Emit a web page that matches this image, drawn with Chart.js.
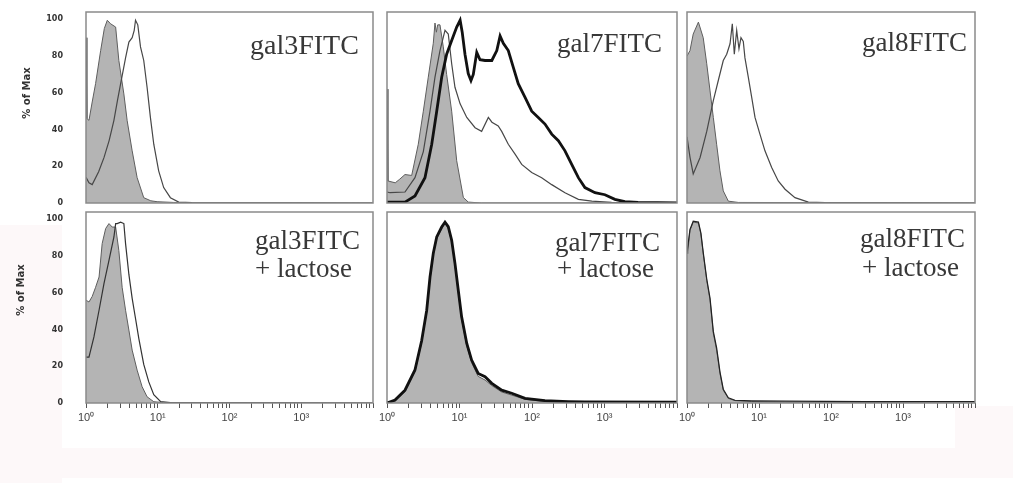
<!DOCTYPE html>
<html>
<head>
<meta charset="utf-8">
<script src="https://cdn.jsdelivr.net/npm/chart.js@4.4.1/dist/chart.umd.min.js"></script>
<style>
  body { margin: 0; background: #fff; width: 1013px; height: 483px; position: relative; overflow: hidden; }
  canvas { position: absolute; }
  .tag { position: absolute; font-family: 'Liberation Serif', 'Times New Roman', serif; font-size: 27px; line-height: 27px; color: #383838; white-space: nowrap; }
  .ytitle { position: absolute; font-family: 'DejaVu Sans', sans-serif; font-weight: bold; font-size: 10px; color: #333; white-space: nowrap; transform: translate(-50%, -50%) rotate(-90deg); }
  .tint { position: absolute; background: #fdf8f9; }
</style>
</head>
<body>
<div class="tint" style="left:0;top:225px;width:62px;height:258px"></div>
<div class="tint" style="left:62px;top:448px;width:951px;height:30px"></div>
<div class="tint" style="left:955px;top:406px;width:58px;height:42px"></div>

<canvas id="c1" width="375" height="201" style="left:0;top:7px"></canvas>
<canvas id="c2" width="294" height="195" style="left:385px;top:10px"></canvas>
<canvas id="c3" width="292" height="195" style="left:685px;top:10px"></canvas>
<canvas id="c4" width="376" height="226" style="left:0;top:207px"></canvas>
<canvas id="c5" width="307" height="223" style="left:373px;top:210px"></canvas>
<canvas id="c6" width="305" height="223" style="left:673px;top:210px"></canvas>

<div class="ytitle" style="left:26px;top:93px">% of Max</div>
<div class="ytitle" style="left:20px;top:290px">% of Max</div>

<div class="tag" style="left:250px;top:31px;font-size:28px">gal3FITC</div>
<div class="tag" style="left:557px;top:30px">gal7FITC</div>
<div class="tag" style="left:862px;top:29px">gal8FITC</div>
<div class="tag" style="left:255px;top:227px">gal3FITC</div>
<div class="tag" style="left:255px;top:255px">+ lactose</div>
<div class="tag" style="left:555px;top:229px">gal7FITC</div>
<div class="tag" style="left:557px;top:255px">+ lactose</div>
<div class="tag" style="left:860px;top:225px">gal8FITC</div>
<div class="tag" style="left:862px;top:254px">+ lactose</div>

<script>
// Axis ticks
const yTicks = [0, 20, 40, 60, 80, 100];
const xMajorTicks = [1, 10, 100, 1000];
const xMajorLabels = ['10⁰', '10¹', '10²', '10³'];
const xMinorTicks = [2, 3, 4, 5, 6, 7, 8, 9, 20, 30, 40, 50, 60, 70, 80, 90,
    200, 300, 400, 500, 600, 700, 800, 900, 2000, 3000, 4000, 5000, 6000, 7000, 8000, 9000, 10000];

// Histograms: [fluorescence, % of max]
const gal3Ctrl = [[1, 90], [1.03, 46], [1.1, 45], [1.22, 55], [1.36, 65], [1.6, 83], [1.8, 95], [1.98, 99.5],
    [2.2, 97.6], [2.59, 95.8], [2.87, 77.6], [3.37, 59.4], [3.75, 44.8], [4.4, 28.4], [5.16, 13.8], [6.38, 2.9],
    [8, 1.2], [9.8, 0.7], [16.7, 0.3], [30, 0], [10000, 0]];
const gal3Stain = [[1, 14], [1.1, 11], [1.22, 10], [1.5, 17], [1.78, 24.7], [2.1, 34], [2.45, 45], [2.75, 56],
    [3.04, 65], [3.56, 79], [3.96, 87.6], [4.4, 90], [4.7, 94], [4.9, 99.5], [5.27, 97], [5.75, 85], [6.38, 77.6],
    [7.1, 63], [7.9, 46.6], [8.8, 32], [10.3, 17.5], [12.1, 8.4], [15, 2.9], [19.6, 0.5], [30, 0.2], [10000, 0]];

const gal7Ctrl = [[1, 62], [1.03, 12], [1.3, 11], [1.5, 13], [1.77, 15.5], [2.19, 15], [2.7, 32], [3.17, 50],
    [3.71, 68.5], [4.35, 87], [4.59, 98], [4.8, 93], [5.0, 97], [5.38, 97], [5.98, 85], [6.65, 70], [7.8, 50],
    [9.15, 23], [11.3, 3], [13.2, 0.5], [20, 0], [10000, 0]];
const gal7Thin = [[1, 6], [1.1, 5.6], [1.77, 6], [2.43, 13.8], [3.17, 28], [3.92, 50], [4.59, 68.5], [5.38, 83],
    [6.31, 94], [7.0, 92], [7.8, 75.8], [8.66, 63], [10.2, 54], [12.6, 46.6], [16.4, 41], [20.2, 39], [25, 46.6],
    [28, 44], [34.2, 42], [38.2, 39], [47.1, 32], [58.4, 26.6], [72.1, 21], [99.1, 16.6], [136, 13.8], [187, 10],
    [285, 5.6], [436, 2], [668, 1], [1250, 0.3], [10000, 0]];
const gal7Thick = [[1, 0.5], [1.77, 0.5], [2.43, 3.8], [3.34, 13.8], [4.14, 32], [4.85, 50], [5.68, 68.5],
    [6.65, 81], [7.8, 88.5], [9.15, 95.8], [10.2, 99.5], [10.9, 93], [11.9, 81], [13.2, 70.5], [14.4, 66.7],
    [15.5, 70], [17.3, 82], [19.2, 78], [22.5, 77.6], [27.9, 77.6], [32.7, 83], [36.3, 91], [40.2, 87], [47.1, 83],
    [55.1, 74], [64.6, 65], [80.2, 57.5], [99.1, 50], [122, 46.6], [151, 43], [187, 37.5], [231, 33.9], [285, 28.4],
    [353, 21], [436, 13.8], [537, 8.4], [739, 5.6], [1014, 4.5], [1391, 2], [1910, 0.7], [2900, 0.3], [10000, 0]];

const gal8Ctrl = [[1, 80], [1.1, 83], [1.22, 92], [1.44, 98.5], [1.68, 90], [1.88, 75.8], [2.09, 61], [2.32, 46.6],
    [2.58, 32], [2.87, 17.5], [3.19, 6.6], [3.75, 1], [5.16, 0.3], [10000, 0]];
const gal8Stain = [[1, 36], [1.1, 25], [1.22, 15.8], [1.52, 24.8], [1.88, 39], [2.32, 55.7], [2.72, 66.7],
    [3.19, 77.6], [3.56, 81], [3.96, 86.7], [4.26, 97.6], [4.54, 81], [4.9, 94], [5.27, 84], [5.62, 90], [6.05, 88],
    [6.38, 79], [7.1, 68.5], [7.92, 57.5], [8.8, 46.6], [10.3, 37.5], [12.1, 28.4], [15, 19.3], [18.5, 12], [23, 7.5],
    [31.6, 2.9], [48.5, 0.5], [82.5, 0.2], [10000, 0]];

const gal3LacCtrl = [[1, 56], [1.1, 55], [1.22, 58], [1.36, 63], [1.52, 68.6], [1.68, 86.8], [1.88, 95], [2.09, 97.7],
    [2.32, 95.8], [2.59, 95.8], [2.87, 83], [3.19, 63], [3.56, 50.5], [3.96, 39.7], [4.4, 28.8], [5.16, 17.9],
    [6.05, 8.9], [7.1, 3.4], [8.8, 0.7], [12.1, 0.2], [10000, 0]];
const gal3LacStain = [[1, 25], [1.1, 25], [1.29, 36], [1.52, 50.5], [1.78, 65], [2.09, 77.7], [2.45, 90.4],
    [2.59, 97.7], [2.72, 97.7], [3.04, 98.5], [3.37, 97.7], [3.56, 86.8], [3.96, 70], [4.4, 57], [4.9, 46],
    [5.45, 35], [6.38, 21], [7.5, 11.5], [8.8, 4.5], [10.9, 0.8], [15, 0.2], [10000, 0]];

const gal7LacCtrl = [[1, 0], [1.29, 1], [1.77, 6], [2.43, 17], [3.01, 33], [3.53, 49.5], [3.92, 67.5], [4.35, 80.5],
    [4.85, 89.5], [5.68, 95], [6.31, 98], [7.0, 95], [7.8, 87.5], [8.66, 75], [9.62, 60], [10.7, 45.5], [12.6, 31],
    [14.7, 22], [18.1, 14.5], [22.5, 12.5], [27.9, 9.5], [38.2, 6], [52.5, 4.3], [80.2, 2], [151, 0.8], [317, 0.3],
    [10000, 0]];
const gal7LacStain = [[1, 0.3], [1.04, 0.3], [1.29, 1.6], [1.77, 7], [2.43, 18], [3.01, 34], [3.53, 50.5],
    [3.92, 68.6], [4.35, 81.5], [4.85, 90.4], [5.68, 95.8], [6.31, 98.5], [7.0, 96], [7.8, 88.6], [8.66, 76],
    [9.62, 61.4], [10.7, 46.9], [12.6, 32.4], [14.7, 23.4], [18.1, 16.1], [22.5, 14.3], [27.9, 10.7], [38.2, 7],
    [52.5, 5.3], [80.2, 2.5], [151, 1.3], [317, 0.8], [537, 0.6], [10000, 0.4]];

const gal8LacCtrl = [[1, 82], [1.02, 81.4], [1.1, 94], [1.22, 98.5], [1.44, 98], [1.56, 92], [1.68, 81.4],
    [1.88, 66.8], [2.09, 56], [2.32, 37.9], [2.58, 28.8], [2.87, 16.1], [3.19, 7], [3.75, 2.5], [4.64, 1.3],
    [7.92, 0.8], [23, 0.5], [10000, 0]];
const gal8LacStain = [[1, 82], [1.1, 94.5], [1.22, 99], [1.44, 98.5], [1.56, 92.5], [1.68, 82], [1.88, 67.5],
    [2.09, 57], [2.32, 39], [2.58, 30], [2.87, 17], [3.19, 7.5], [3.75, 2.8], [4.64, 1.5], [7.92, 1.2], [23, 1],
    [300, 0.8], [10000, 0.8]];

const pts = arr => arr.map(([x, y]) => ({ x, y }));

// Dataset styles
function ctrl(arr) {
    return { data: pts(arr), borderColor: '#5e5e5e', borderWidth: 1, backgroundColor: '#b4b4b4', fill: 'origin' };
}
function thin(arr, color) {
    return { data: pts(arr), borderColor: color || '#474747', borderWidth: 1.2, fill: false };
}
function thick(arr) {
    return { data: pts(arr), borderColor: '#111', borderWidth: 2.8, fill: false };
}

// Grey frame around each plot area
const framePlugin = {
    id: 'frame',
    afterDatasetsDraw(chart) {
        const { ctx, chartArea: a } = chart;
        ctx.save();
        ctx.strokeStyle = '#8a8a8a';
        ctx.lineWidth = 1.5;
        ctx.strokeRect(a.left, a.top, a.right - a.left, a.bottom - a.top);
        ctx.restore();
    }
};

function panel(id, datasets, showY, showX, padLeft) {
    // the y tick labels need about 5px above and below the plot area
    const padV = showY ? 5 : 2;
    return new Chart(document.getElementById(id), {
        type: 'line',
        data: { datasets },
        options: {
            responsive: false,
            animation: false,
            devicePixelRatio: 1,
            layout: { padding: { left: padLeft, top: padV, right: showX ? 3 : 2, bottom: showX ? 0 : padV } },
            plugins: { legend: { display: false }, tooltip: { enabled: false } },
            elements: { point: { radius: 0 }, line: { tension: 0 } },
            scales: {
                x: {
                    type: 'logarithmic',
                    min: 1,
                    max: 10000,
                    display: showX,
                    border: { display: false },
                    grid: { drawOnChartArea: false, drawTicks: true, tickLength: 5, tickColor: '#555', tickWidth: 1 },
                    afterBuildTicks: scale => {
                        scale.ticks = xMajorTicks.concat(xMinorTicks)
                            .sort((a, b) => a - b)
                            .map(v => ({ value: v, major: xMajorTicks.includes(v) }));
                    },
                    afterFit: scale => { scale.height = showX ? 30 : 0; },
                    ticks: {
                        autoSkip: false,
                        maxRotation: 0,
                        padding: 3,
                        color: '#444',
                        font: { family: "'Liberation Sans', Arial, sans-serif", size: 11 },
                        callback: value => {
                            const i = xMajorTicks.indexOf(value);
                            return i >= 0 ? xMajorLabels[i] : '';
                        }
                    }
                },
                y: {
                    min: 0,
                    max: 104,
                    display: showY,
                    border: { display: false },
                    // invisible tick marks only push the labels away from the frame
                    grid: { drawOnChartArea: false, drawTicks: true, tickLength: 23, tickColor: 'rgba(0,0,0,0)' },
                    afterBuildTicks: scale => { scale.ticks = yTicks.map(v => ({ value: v })); },
                    afterFit: scale => { scale.width = showY ? 84 : 0; },
                    ticks: {
                        padding: 0,
                        color: '#333',
                        font: { family: "'DejaVu Sans', sans-serif", size: 8, weight: 'bold' }
                    }
                }
            }
        },
        plugins: [framePlugin]
    });
}

// Top row: stained cells
panel('c1', [thin(gal3Stain), ctrl(gal3Ctrl)], true, false, 2);
panel('c2', [thick(gal7Thick), thin(gal7Thin), ctrl(gal7Ctrl)], false, false, 2);
panel('c3', [thin(gal8Stain), ctrl(gal8Ctrl)], false, false, 2);

// Bottom row: + lactose
panel('c4', [thin(gal3LacStain, '#333'), ctrl(gal3LacCtrl)], true, true, 2);
panel('c5', [thick(gal7LacStain), ctrl(gal7LacCtrl)], false, true, 14);
panel('c6', [thin(gal8LacStain, '#222'), ctrl(gal8LacCtrl)], false, true, 14);
</script>
</body>
</html>
